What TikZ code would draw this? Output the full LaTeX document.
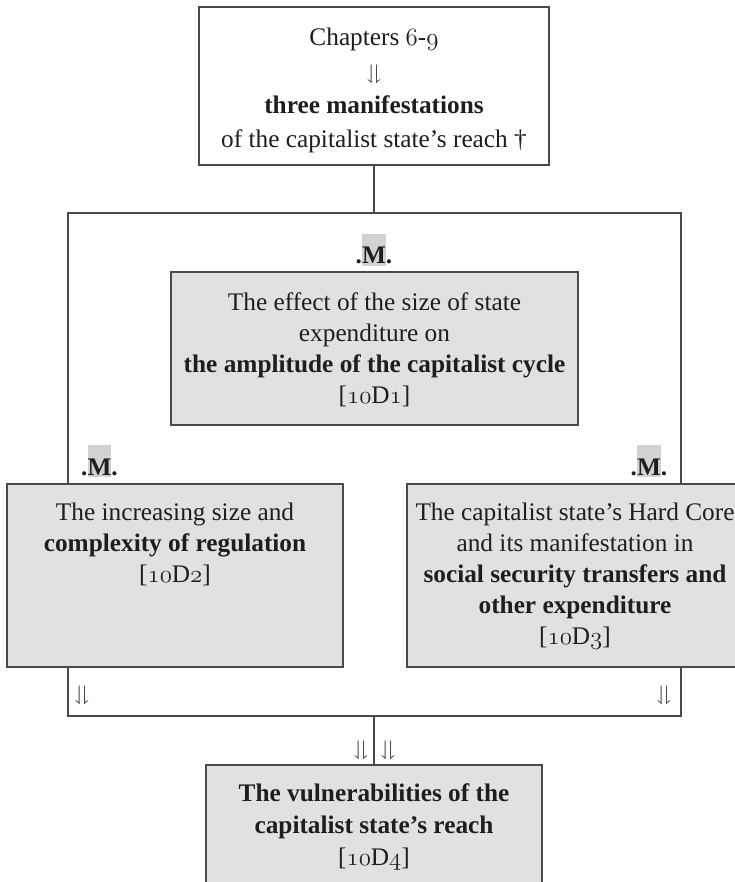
\documentclass[tikz,border=0pt]{standalone}
\usepackage{amssymb}
\usepackage{fontspec}
\setmainfont{Liberation Serif}
\usetikzlibrary{calc}
\definecolor{ln}{HTML}{4A4A4A}
\definecolor{bx}{HTML}{E1E1E1}
\definecolor{hl}{HTML}{D2D2D2}
\definecolor{tx}{HTML}{1E1E1E}
\newcommand\osn[1]{{\usefont{OML}{cmm}{m}{it}#1}}
\newcommand\mhl[1]{{\setlength{\fboxsep}{0pt}\colorbox{hl}{\rule[-2pt]{0pt}{32pt}#1}}}
\newcommand\harp{{\fontsize{21}{21}\selectfont$\downharpoonleft\!\downharpoonright$}}
\begin{document}
\begin{tikzpicture}[x=1pt,y=-1pt,
  line/.style={draw=ln, line width=1.4pt},
  box/.style={line, fill=bx, inner sep=0pt, outer sep=0pt, rectangle},
  wbox/.style={line, fill=white, inner sep=0pt, outer sep=0pt, rectangle},
  txt/.style={inner sep=0pt, align=center, text=tx, font=\fontsize{25.3}{31}\selectfont, anchor=north},
  mlab/.style={inner sep=0pt, anchor=base, text=tx, font=\fontsize{25.3}{31}\selectfont\bfseries},
  harpn/.style={inner sep=0pt, text=tx}]
\useasboundingbox (0,0) rectangle (735,882);
\fill[white] (0,0) rectangle (735,882);
\clip (0,0) rectangle (735,882);

% frame coordinates
\coordinate (fl) at (68,213);
\coordinate (fr) at (681,213);
\coordinate (bl) at (68,716);
\coordinate (br) at (681,716);

% boxes
\node[wbox, minimum width=350pt, minimum height=158pt] (top) at (374,86) {};
\node[box, minimum width=407pt, minimum height=153pt] (d1) at (374.5,348.5) {};
\node[box, minimum width=336pt, minimum height=183pt] (d2) at (175,575.5) {};
\node[box, minimum width=336pt, minimum height=183pt] (d3) at (575,575.5) {};
\node[box, minimum width=336pt, minimum height=140pt] (d4) at (374,835) {};

% connectors
\draw[line] (top.south) -- (top.south |- fl);
\draw[line] (d2.north -| fl) -- (fl) -- (fr) -- (d3.north -| fr);
\draw[line] (d2.south -| bl) -- (bl) -- (br) -- (d3.south -| br);
\draw[line] (d4.north) -- (d4.north |- bl);

% texts
\node[txt, font=\fontsize{25.3}{34}\selectfont] (toptxt) at (374,21.2)
  {\strut Chapters \osn{6}-\osn{9}\\ \harp\\ \textbf{three manifestations}\\ of the capitalist state’s reach †};
\node[txt] (d1txt) at (374.5,288.3)
  {\strut The effect of the size of state\\ expenditure on\\ \textbf{the amplitude of the capitalist cycle}\\ {[}\osn{10}D\osn{1}{]}};
\node[txt] (d2txt) at (175,498.3)
  {\strut The increasing size and\\ \textbf{complexity of regulation}\\ {[}\osn{10}D\osn{2}{]}};
\node[txt] (d3txt) at (575,498.3)
  {\strut The capitalist state’s Hard Core\\ and its manifestation in\\ \textbf{social security transfers and}\\ \textbf{other expenditure}\\ {[}\osn{10}D\osn{3}{]}};
\node[txt, font=\fontsize{25.3}{32}\selectfont] (d4txt) at (374,778.6)
  {\strut\textbf{The vulnerabilities of the}\\ \textbf{capitalist state’s reach}\\ {[}\osn{10}D\osn{4}{]}};

% .M. labels
\node[mlab] (m1) at (374,264) {.\mhl{M}.};
\node[mlab] (m2) at (99.5,475) {.\mhl{M}.};
\node[mlab] (m3) at (649,475) {.\mhl{M}.};

% harpoon pairs
\node[harpn] (a1) at (82,695) {\harp};
\node[harpn] (a2) at (664,695) {\harp};
\node[harpn] (a3) at (361,750) {\harp};
\node[harpn] (a4) at (388,750) {\harp};
\end{tikzpicture}
\end{document}
